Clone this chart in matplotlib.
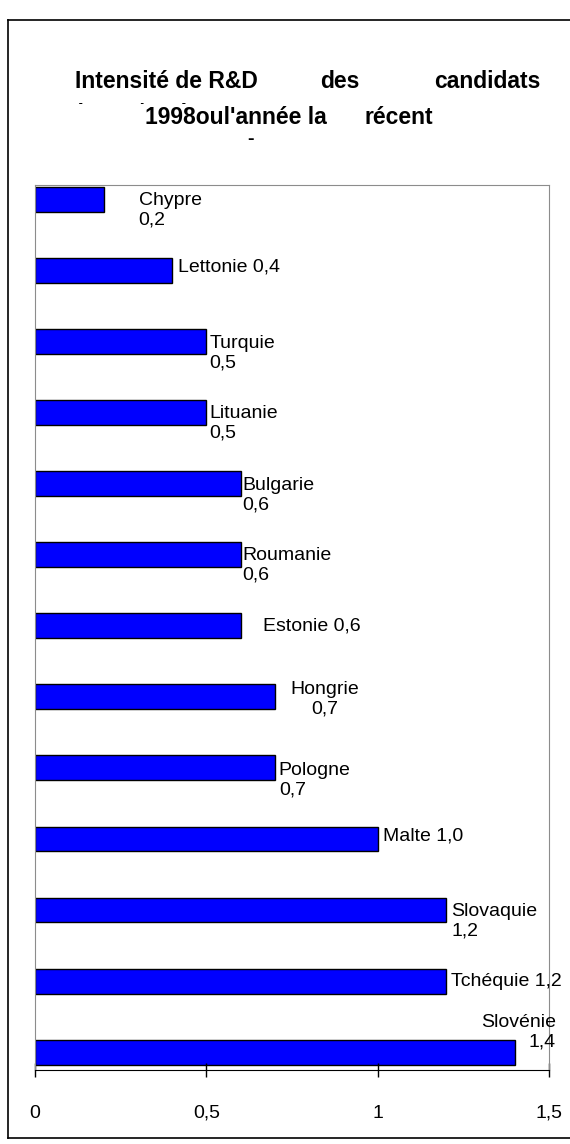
import matplotlib.pyplot as plt
from matplotlib.lines import Line2D
from matplotlib.patches import Rectangle

W, H = 570, 1144

countries = ["Chypre", "Lettonie", "Turquie", "Lituanie", "Bulgarie", "Roumanie",
             "Estonie", "Hongrie", "Pologne", "Malte", "Slovaquie", "Tchéquie", "Slovénie"]
values = [0.2, 0.4, 0.5, 0.5, 0.6, 0.6, 0.6, 0.7, 0.7, 1.0, 1.2, 1.2, 1.4]
tick_values = [0, 0.5, 1, 1.5]
tick_labels = ["0", "0,5", "1", "1,5"]

# label layout: (dx px, dy px down, ha, two lines?)
label_layout = [
    (35, 11, "left", True),
    (6, -3, "left", False),
    (3, 12, "left", True),
    (3, 11, "left", True),
    (2, 12, "left", True),
    (2, 11, "left", True),
    (22, 0, "left", False),
    (50, 2, "center", True),
    (4, 12, "left", True),
    (5, -3, "left", False),
    (5, 11, "left", True),
    (5, 0, "left", False),
    (41, -20, "right", True),
]

plt.rcParams["font.family"] = ["Liberation Sans", "DejaVu Sans"]

fig = plt.figure(figsize=(W / 100, H / 100), dpi=100)


def fx(x):
    return x / W


def fy(y):
    return 1 - y / H


# outer frame of the chart object
for xs, ys in [((8, 8), (20, 1138)), ((8, W), (20, 20)), ((8, W), (1138, 1138))]:
    fig.add_artist(Line2D([fx(x) for x in xs], [fy(y) for y in ys], color="black", lw=1.2))

ax = fig.add_axes([fx(35), fy(1070), fx(549) - fx(35), fy(185) - fy(1070)])
ypos = list(range(len(values)))
ax.barh(ypos, values, height=0.35, color="#0000FF", edgecolor="black", linewidth=1)
ax.set_xlim(0, 1.5)
ax.set_ylim(12.25, -0.2)
ax.set_yticks([])
ax.set_xticks(tick_values)
ax.set_xticklabels(tick_labels, fontsize=14)
ax.tick_params(axis="x", direction="inout", length=10, width=1, pad=20)
for side in ["left", "top", "right"]:
    ax.spines[side].set_color("#8c8c8c")
ax.spines["bottom"].set_color("black")

for i, (name, v) in enumerate(zip(countries, values)):
    dx, dy, ha, two = label_layout[i]
    val = f"{v:.1f}".replace(".", ",")
    txt = f"{name}\n{val}" if two else f"{name} {val}"
    ax.annotate(txt, xy=(v, i), xytext=(dx, -dy), textcoords="offset pixels",
                ha=ha, va="center", multialignment=ha, fontsize=14,
                annotation_clip=False)

# hidden line of the title, only its top shows
hidden = fig.text(fx(75), fy(114), "(DIRD/PIB)", ha="left", va="center",
                  fontsize=16.5, fontweight="bold", zorder=1)
fig.add_artist(Rectangle((fx(60), fy(134)), fx(150), fy(104) - fy(134),
                         facecolor="white", edgecolor="none", zorder=2))

# title, drawn word by word like the original text box
title_parts = [
    ("Intensité de R&D", 75, 82),
    ("des", 320, 82),
    ("candidats", 434, 82),
    ("1998oul'année la", 145, 117),
    ("récent", 365, 117),
]
for s, x, y in title_parts:
    fig.text(fx(x), fy(y), s, ha="left", va="center", fontsize=16.5,
             fontweight="bold", zorder=3)

fig.text(fx(250), fy(140), "-", ha="center", va="center", fontsize=14, fontweight="bold")

fig.savefig("out.png", dpi=100)
